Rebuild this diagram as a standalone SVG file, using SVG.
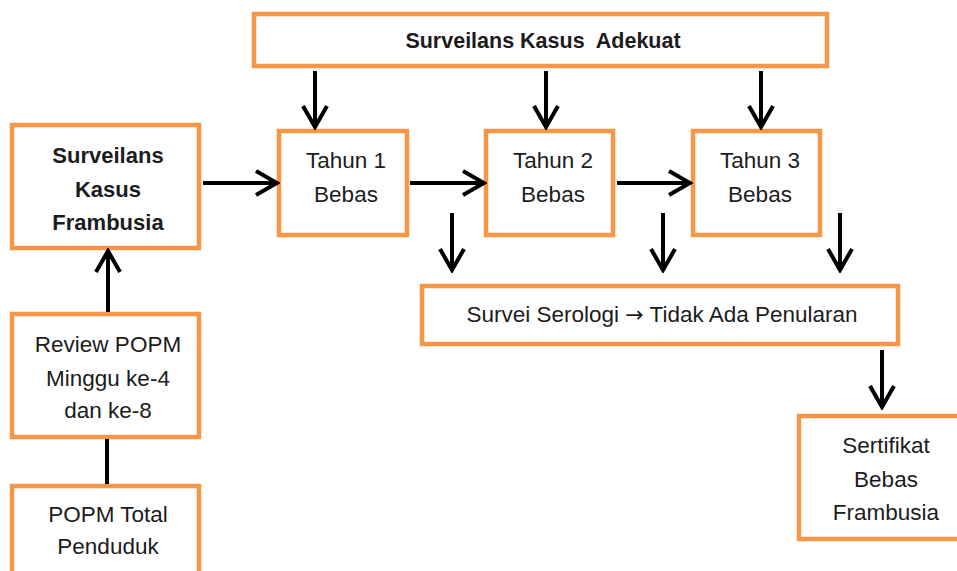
<svg xmlns="http://www.w3.org/2000/svg" width="957" height="571" viewBox="0 0 957 571">
<defs>
<style>
.box{fill:#fff;stroke:#F79646;stroke-width:4.5}
.t{font-family:"Liberation Sans",Arial,sans-serif;font-size:22.5px;fill:#1c1c1c;text-anchor:middle}
.b{font-weight:bold;font-size:22px}
.top{font-size:21.5px;white-space:pre}
.arr{font-family:"DejaVu Sans",sans-serif;font-size:22px}
.c{stroke:#000;stroke-width:4;fill:none}
</style>
<marker id="ah" markerUnits="userSpaceOnUse" viewBox="0 0 26 28" markerWidth="26" markerHeight="28" refX="23" refY="14" orient="auto">
<path d="M2,2 L23,14 L2,26" fill="none" stroke="#000" stroke-width="4"/>
</marker>
</defs>
<g id="adekuat"><rect class="box" x="254" y="14" width="573" height="52"/><text class="t b top" x="543" y="48" xml:space="preserve">Surveilans Kasus  Adekuat</text></g>
<g id="frambusia"><rect class="box" x="12" y="125" width="187" height="123"/><text class="t b" x="108" y="163">Surveilans</text><text class="t b" x="108" y="197">Kasus</text><text class="t b" x="108" y="230">Frambusia</text></g>
<g id="tahun1"><rect class="box" x="279" y="131" width="128" height="104"/><text class="t" x="346" y="168">Tahun 1</text><text class="t" x="346" y="202">Bebas</text></g>
<g id="tahun2"><rect class="box" x="486" y="131" width="127" height="104"/><text class="t" x="553" y="168">Tahun 2</text><text class="t" x="553" y="202">Bebas</text></g>
<g id="tahun3"><rect class="box" x="693" y="131" width="127" height="104"/><text class="t" x="760" y="168">Tahun 3</text><text class="t" x="760" y="202">Bebas</text></g>
<g id="serologi"><rect class="box" x="422" y="286" width="476" height="58"/><text class="t" x="662" y="322">Survei Serologi <tspan class="arr">→</tspan> Tidak Ada Penularan</text></g>
<g id="sertifikat"><rect class="box" x="799" y="416" width="162" height="123"/><text class="t" x="886" y="453">Sertifikat</text><text class="t" x="886" y="487">Bebas</text><text class="t" x="886" y="520">Frambusia</text></g>
<g id="review"><rect class="box" x="12" y="314" width="187" height="123"/><text class="t" x="108" y="352">Review POPM</text><text class="t" x="108" y="386">Minggu ke-4</text><text class="t" x="108" y="418">dan ke-8</text></g>
<g id="popm"><rect class="box" x="12" y="486" width="187" height="100"/><text class="t" x="108" y="522">POPM Total</text><text class="t" x="108" y="554">Penduduk</text></g>
<g id="connectors">
<line class="c" x1="315" y1="71" x2="315" y2="127" marker-end="url(#ah)"/>
<line class="c" x1="546" y1="71" x2="546" y2="127" marker-end="url(#ah)"/>
<line class="c" x1="761" y1="71" x2="761" y2="127" marker-end="url(#ah)"/>
<line class="c" x1="203" y1="183" x2="277" y2="183" marker-end="url(#ah)"/>
<line class="c" x1="410" y1="183" x2="484" y2="183" marker-end="url(#ah)"/>
<line class="c" x1="617" y1="183" x2="690" y2="183" marker-end="url(#ah)"/>
<line class="c" x1="452" y1="213" x2="452" y2="270" marker-end="url(#ah)"/>
<line class="c" x1="663" y1="213" x2="663" y2="270" marker-end="url(#ah)"/>
<line class="c" x1="840" y1="213" x2="840" y2="270" marker-end="url(#ah)"/>
<line class="c" x1="882" y1="350" x2="882" y2="407" marker-end="url(#ah)"/>
<line class="c" x1="108" y1="312" x2="108" y2="251" marker-end="url(#ah)"/>
<line class="c" x1="107" y1="439" x2="107" y2="484"/>
</g>
</svg>
